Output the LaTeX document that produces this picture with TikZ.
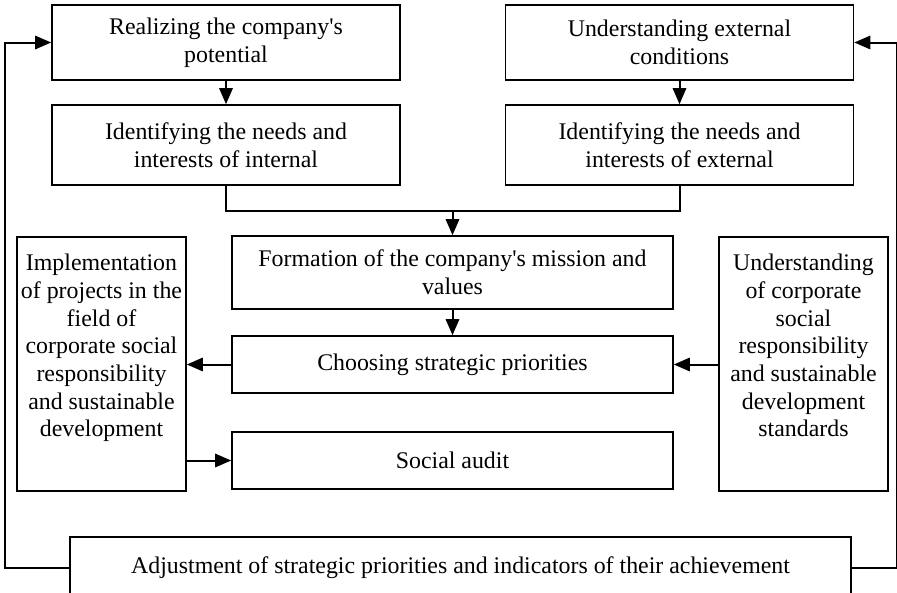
\documentclass[tikz,border=0pt]{standalone}
\usepackage{fontspec}
\setmainfont{Liberation Serif}
\usetikzlibrary{arrows.meta}

\begin{document}
\begin{tikzpicture}[x=0.75pt, y=-0.75pt,
  textbox/.style={draw, line width=1.2pt, font=\fontsize{17.9}{20.8}\selectfont, inner sep=0, align=center},
  flow/.style={-{Triangle[length=12pt,width=10pt]}, line width=1.5pt}]
\useasboundingbox (0,0) rectangle (897,593);
\clip (0,0) rectangle (897,593);
%top row
\node[textbox, minimum width=261pt, minimum height=56.25pt] (real) at (226,42.5) {Realizing the company\textquotesingle s\\potential};
\node[textbox, minimum width=261pt, minimum height=60pt] (intn) at (226,145) {Identifying the needs and\\interests of internal};
\node[textbox, minimum width=261pt, minimum height=56.25pt] (ext) at (679.5,42.5) {Understanding external\\conditions};
\node[textbox, minimum width=261pt, minimum height=60pt] (extn) at (679.5,145) {Identifying the needs and\\interests of external};
%middle column
\node[textbox, minimum width=330.75pt, minimum height=54.75pt] (mission) at (452.5,272.5) {Formation of the company\textquotesingle s mission and\\values};
\node[textbox, minimum width=330.75pt, minimum height=42.75pt] (prio) at (452.5,364.5) {Choosing strategic priorities};
\node[textbox, minimum width=330.75pt, minimum height=42.75pt] (audit) at (452.5,460.5) {Social audit};
%side boxes
\node[textbox, minimum width=126.75pt, minimum height=190.5pt] (impl) at (101.5,364) {Implementation\\of projects in the\\field of\\corporate social\\responsibility\\and sustainable\\development\\[7pt]~};
\node[textbox, minimum width=126.75pt, minimum height=190.5pt] (std) at (803.5,364) {Understanding\\of corporate\\social\\responsibility\\and sustainable\\development\\standards\\[7pt]~};
\node[textbox, minimum width=585.75pt, minimum height=46.5pt] (adj) at (460.5,568) {Adjustment of strategic priorities and indicators of their achievement};
\coordinate (merge) at (452.5,211);
\draw [flow] (real) -- (intn);
\draw [flow] (ext) -- (extn);
\draw [line width=1.5pt] (intn.south) |- (merge) -| (extn.south);
\draw [flow] (merge) -- (mission.north);
\draw [flow] (mission) -- (prio);
\draw [flow] (prio.west) -- (impl.east |- prio.west);
\draw [flow] (std.west |- prio.east) -- (prio.east);
\draw [flow] (impl.east |- audit.west) -- (audit.west);
\draw [flow] (adj.west) -- ++(-64,0) |- (real.west);
\draw [flow] (adj.east) -- ++(45,0) |- (ext.east);
\end{tikzpicture}
\end{document}
